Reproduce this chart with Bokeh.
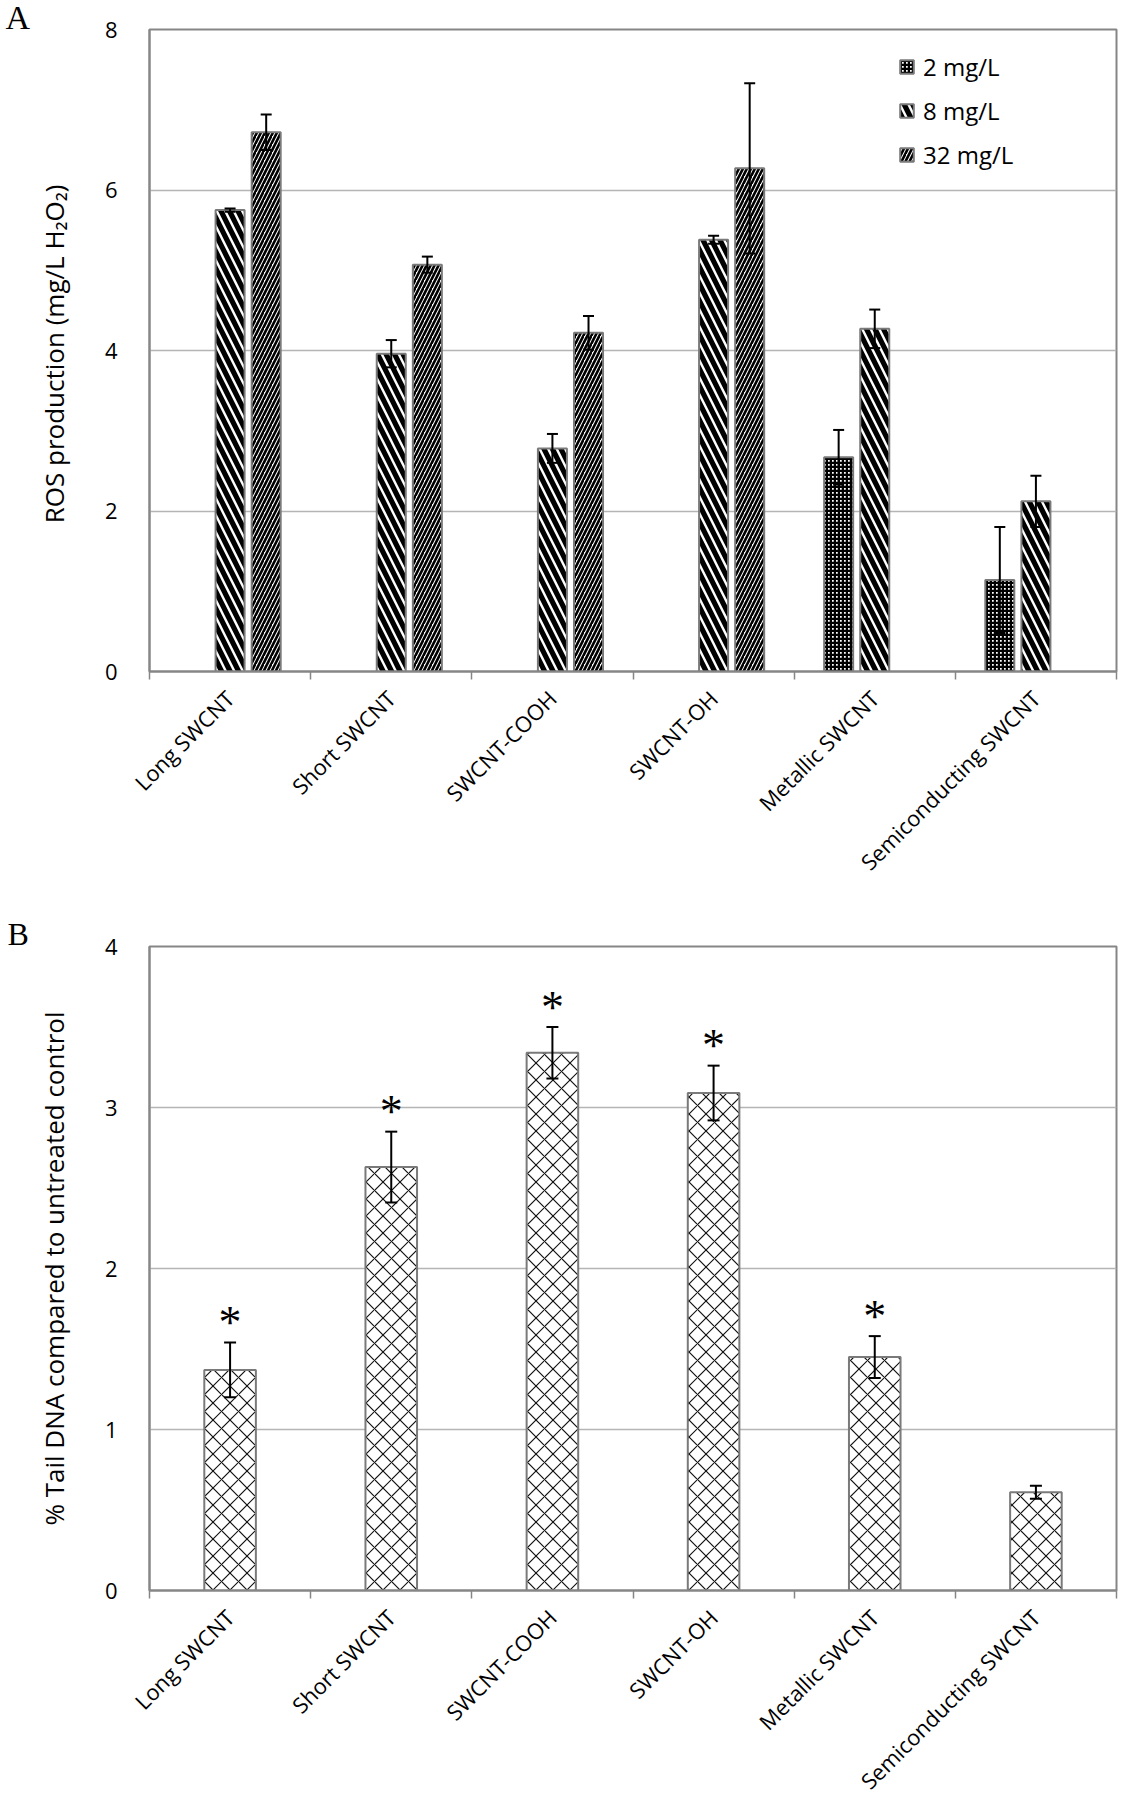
import math
import numpy as np
from bokeh.plotting import figure
from bokeh.models import ColumnDataSource, Range1d, FixedTicker, Whisker, TeeHead
from bokeh.layouts import column
from bokeh.embed import file_html
from bokeh.resources import INLINE
from bokeh.core.properties import value

# ---------------- data ----------------
categories = ["Long SWCNT", "Short SWCNT", "SWCNT-COOH", "SWCNT-OH",
              "Metallic SWCNT", "Semiconducting SWCNT"]

series_a = ["2 mg/L", "8 mg/L", "32 mg/L"]
ros_2mg = [None, None, None, None, 2.67, 1.14]
ros_2mg_err = [None, None, None, None, 0.34, 0.66]
ros_8mg = [5.75, 3.96, 2.78, 5.38, 4.27, 2.12]
ros_8mg_err = [0.02, 0.17, 0.18, 0.05, 0.24, 0.32]
ros_32mg = [6.72, 5.07, 4.22, 6.27, None, None]
ros_32mg_err = [0.22, 0.10, 0.21, 1.06, None, None]
ros_ticks = [0, 2, 4, 6, 8]

tail_dna = [1.37, 2.63, 3.34, 3.09, 1.45, 0.61]
tail_dna_err = [0.17, 0.22, 0.16, 0.17, 0.13, 0.04]
tail_significant = [True, True, True, True, True, False]
tail_ticks = [0, 1, 2, 3, 4]

# ---------------- style ----------------
FONT = "Open Sans"
AX = "#868686"
GRID = "#b5b5b5"
EDGE = "#7a7a7a"
n = len(categories)
centers = np.arange(n) + 0.5
FRAME_W = 967


def make_fig(frame_h, top, bottom, ymax, ticks, ytitle, letter, letter_size,
             letter_dx, letter_standoff):
    p = figure(frame_width=FRAME_W, frame_height=frame_h,
               x_range=Range1d(0, n), y_range=Range1d(0, ymax),
               output_backend="svg", toolbar_location=None,
               min_border_left=149, min_border_right=8,
               min_border_top=top, min_border_bottom=bottom)
    p.outline_line_color = AX
    p.outline_line_width = 2
    p.xgrid.visible = False
    p.ygrid.grid_line_color = GRID
    p.ygrid.grid_line_width = 1.5

    # panel letter as the plot title, pushed to the far left
    p.title.text = letter
    p.title.text_font = "Liberation Serif"
    p.title.text_font_size = letter_size
    p.title.text_font_style = "normal"
    p.title.text_color = "black"
    p.title.align = "left"
    p.title.offset = letter_dx
    try:
        p.title.standoff = letter_standoff
    except Exception:
        p.title.standoff = 0

    xa = p.xaxis[0]
    xa.ticker = FixedTicker(ticks=list(centers), minor_ticks=list(range(n + 1)))
    xa.major_label_overrides = {float(c): lab for c, lab in zip(centers, categories)}
    xa.major_tick_line_color = None
    xa.major_tick_out = 8
    xa.major_tick_in = 0
    xa.minor_tick_line_color = AX
    xa.minor_tick_line_width = 1.5
    xa.minor_tick_out = 8
    xa.minor_tick_in = 0
    xa.axis_line_color = AX
    xa.axis_line_width = 2
    xa.major_label_orientation = math.pi / 4
    xa.major_label_text_font = FONT
    xa.major_label_text_font_size = "21.8px"
    xa.major_label_text_color = "black"
    xa.major_label_standoff = 15

    ya = p.yaxis[0]
    ya.ticker = FixedTicker(ticks=ticks)
    ya.major_tick_line_color = None
    ya.minor_tick_line_color = None
    ya.axis_line_color = AX
    ya.axis_line_width = 2
    ya.major_label_text_font = FONT
    ya.major_label_text_font_size = "22px"
    ya.major_label_text_color = "black"
    ya.major_label_standoff = 26
    ya.axis_label = ytitle
    ya.axis_label_text_font = FONT
    ya.axis_label_text_font_size = "26px"
    ya.axis_label_text_font_style = "normal"
    ya.axis_label_text_color = "black"
    ya.axis_label_standoff = 30
    return p


def add_whisker(p, src, head):
    w = Whisker(base="x", upper="upper", lower="lower", source=src,
                line_color="black", line_width=2, level="annotation",
                upper_head=TeeHead(size=head, line_color="black", line_width=2),
                lower_head=TeeHead(size=head, line_color="black", line_width=2))
    p.add_layout(w)


# ---------------- panel A ----------------
A_TOP, A_FRAME, A_BOTTOM = 29, 642, 230
pa = make_fig(A_FRAME, A_TOP, A_BOTTOM, 8, ros_ticks,
              "ROS production  (mg/L H\u2082O\u2082)", "A", "34px", -144, -13)

bar_w = 0.18
offsets = [-0.224, 0.0, 0.224]
styles = [
    dict(hatch_pattern="+", hatch_scale=4, hatch_weight=2.5),
    dict(hatch_pattern="\\", hatch_scale=17, hatch_weight=5.2),
    dict(hatch_pattern="/", hatch_scale=8, hatch_weight=2.6),
]
for name, vals, errs, off, st in zip(series_a, [ros_2mg, ros_8mg, ros_32mg],
                                     [ros_2mg_err, ros_8mg_err, ros_32mg_err],
                                     offsets, styles):
    idx = [i for i, v in enumerate(vals) if v is not None]
    v = np.array([vals[i] for i in idx])
    e = np.array([errs[i] for i in idx])
    src = ColumnDataSource(dict(x=centers[idx] + off, top=v, upper=v + e, lower=v - e))
    pa.vbar(x="x", top="top", width=bar_w, bottom=0, source=src,
            fill_color="white", hatch_color="black", line_color=EDGE, line_width=2,
            legend_label=name, **st)
    add_whisker(pa, src, 11)

lg = pa.legend[0]
lg.location = (749, 500)
lg.padding = 0
lg.margin = 0
lg.spacing = 11
lg.border_line_color = None
lg.background_fill_alpha = 0
lg.glyph_width = 17
lg.glyph_height = 17
lg.label_standoff = 8
lg.label_text_font = FONT
lg.label_text_font_size = "24px"
lg.label_text_color = "black"

# ---------------- panel B ----------------
A_HEIGHT = A_TOP + A_FRAME + A_BOTTOM
B_TOP = 946 - A_HEIGHT
pb = make_fig(644, B_TOP, 180, 4, tail_ticks,
              "% Tail DNA compared to untreated control", "B", "32px", -142, -11)

t = np.array(tail_dna)
te = np.array(tail_dna_err)
srcb = ColumnDataSource(dict(x=centers, top=t, upper=t + te, lower=t - te))
pb.vbar(x="x", top="top", width=0.32, bottom=0, source=srcb,
        fill_color="white", hatch_pattern="x", hatch_scale=17, hatch_weight=1.2,
        hatch_color="#111111", line_color=EDGE, line_width=2)
add_whisker(pb, srcb, 12)

sig = [i for i, s in enumerate(tail_significant) if s]
srcs = ColumnDataSource(dict(x=centers[sig], y=(t + te)[sig], txt=["*"] * len(sig)))
pb.text(x="x", y="y", text="txt", source=srcs, text_align="center",
        text_baseline="alphabetic", y_offset=-20,
        text_font=value("Liberation Serif"), text_font_size="46px", text_color="black")

layout = column(pa, pb, spacing=0)
open("out.html", "w").write(file_html(layout, INLINE))
